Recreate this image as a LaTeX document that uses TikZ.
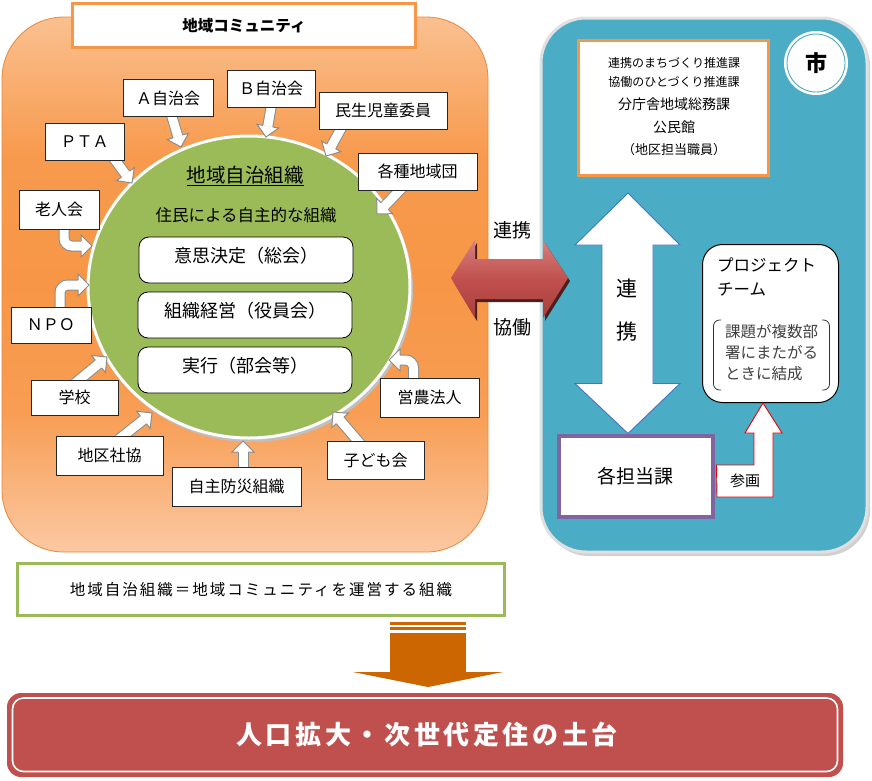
\documentclass[tikz,border=0pt]{standalone}
\usepackage{fontspec}
\setmainfont{Noto Sans CJK JP}
\usetikzlibrary{calc,shapes.geometric}
\definecolor{cOrange}{HTML}{F79646}
\definecolor{oTop}{HTML}{FAC090}
\definecolor{oMid}{HTML}{F79646}
\definecolor{oBot}{HTML}{FBC8A2}
\definecolor{oEdge}{HTML}{E8883D}
\definecolor{cGreen}{HTML}{9BBB59}
\definecolor{cBlue}{HTML}{4BACC6}
\definecolor{cRed}{HTML}{C0504D}
\definecolor{rTop}{HTML}{D6817E}
\definecolor{rBot}{HTML}{A8403D}
\definecolor{cPurple}{HTML}{8064A2}
\definecolor{aBlue}{HTML}{4472C4}
\definecolor{dOrange}{HTML}{CC6600}
\pgfdeclareverticalshading{oshade}{100bp}{color(0bp)=(oBot); color(25bp)=(oBot); color(38bp)=(oMid!85!oBot); color(50bp)=(oMid); color(62bp)=(oMid!90!oTop); color(75bp)=(oTop); color(100bp)=(oTop)}
\pgfdeclareverticalshading{rshade}{100bp}{color(0bp)=(rBot); color(25bp)=(rBot); color(50bp)=(cRed); color(75bp)=(rTop); color(100bp)=(rTop)}
\tikzset{
  fsz/.style={font=\fontsize{#1}{#1}\selectfont},
  fszb/.style={font=\fontsize{#1}{#1}\selectfont\bfseries},
  sbox/.style={draw=black!85, fill=white, line width=0.9pt, inner sep=0pt, fsz=16},
  ibox/.style={draw=black, fill=white, rounded corners=10pt, line width=0.8pt, minimum width=214pt, minimum height=46pt, inner sep=0pt, fsz=18, text depth=11pt},
  shaft/.style={draw=black!45, double=white, double distance=9pt, line width=1pt},
  headline/.style={draw=black!45, line width=1pt, line join=miter},
  lbl/.style={inner sep=0pt},
}
\newcommand\ahd[2]{%
  \coordinate (hb) at ($(#2)!11pt!(#1)$);
  \fill[white] ($(hb)!11pt!90:(#2)$) -- (#2) -- ($(hb)!11pt!-90:(#2)$) -- cycle;
  \draw[headline] ($(hb)!5pt!90:(#2)$) -- ($(hb)!11pt!90:(#2)$) -- (#2) -- ($(hb)!11pt!-90:(#2)$) -- ($(hb)!5pt!-90:(#2)$);}
\newcommand\sarrow[2]{%
  \coordinate (hb) at ($(#2)!11pt!(#1)$);
  \draw[shaft] ($(#1)!-6pt!(#2)$) -- (hb);
  \ahd{#1}{#2}}
\newcommand\carrow[3]{%
  \coordinate (hb) at ($(#3)!11pt!(#2)$);
  \draw[shaft, rounded corners=8pt] (#1) -- (#2) -- (hb);
  \ahd{#2}{#3}}
\begin{document}
\begin{tikzpicture}[x=1pt,y=-1pt]
\useasboundingbox (0,0) rectangle (872,780);
\fill[white] (0,0) rectangle (872,780);

% ---------- left panel
\path[shading=oshade, rounded corners=62pt] (2,17) rectangle (488,552);
\draw[oEdge, line width=0.8pt, rounded corners=62pt] (2,17) rectangle (488,552);
\node[draw=cOrange, line width=3pt, fill=white, minimum width=343pt, minimum height=44pt, inner sep=0pt, fszb=15.5] (title) at (244,25.5) {地域コミュニティ};

% circle
\fill[black!25] (251,290) ellipse [x radius=162, y radius=152];
\node[ellipse, fill=cGreen, draw=white, line width=3pt, minimum width=322pt, minimum height=302pt, inner sep=0pt] (org) at (249,287) {};
\node[lbl, fsz=19.5] (orgname) at (245,176) {\underline{地域自治組織}};
\node[lbl, fsz=16.5] (orgsub) at (246,215) {住民による自主的な組織};
\node[ibox] (b1) at (246,260) {意思決定（総会）};
\node[ibox] (b2) at (245,315) {組織経営（役員会）};
\node[ibox] (b3) at (245,370) {実行（部会等）};

% member boxes (positions)
\path
  (168,98)    node[sbox, minimum width=90pt,  minimum height=37pt] (ajichi) {}
  (271,88.5)  node[sbox, minimum width=88pt,  minimum height=37pt] (bjichi) {}
  (383,110.5) node[sbox, minimum width=128pt, minimum height=37pt] (minsei) {}
  (84.5,141.5) node[sbox, minimum width=79pt, minimum height=37pt] (pta) {}
  (417.5,171.5) node[sbox, minimum width=119pt, minimum height=37pt] (kakushu) {}
  (59,209.5)  node[sbox, minimum width=80pt,  minimum height=39pt] (roujin) {}
  (51,325)    node[sbox, minimum width=80pt,  minimum height=36pt] (npo) {}
  (74.5,397.5) node[sbox, minimum width=87pt, minimum height=35pt] (gakko) {}
  (109.5,455.5) node[sbox, minimum width=107pt, minimum height=39pt] (shakyo) {}
  (236.5,486.5) node[sbox, minimum width=129pt, minimum height=39pt] (bosai) {}
  (375.5,460) node[sbox, minimum width=97pt,  minimum height=38pt] (kodomo) {}
  (429.5,397.5) node[sbox, minimum width=99pt, minimum height=39pt] (einou) {};

% arrows into the circle
\coordinate (sA) at ($(ajichi.south)+(4,0)$);   \coordinate (tA) at (181,147);
\coordinate (sB) at (bjichi.south);              \coordinate (tB) at (266,137);
\coordinate (sM) at ($(minsei.south west)+(22,0)$); \coordinate (tM) at (326,156);
\coordinate (sP) at ($(pta.south east)+(-9,0)$); \coordinate (tP) at (132,183);
\coordinate (sK) at ($(kakushu.south west)+(42,0)$); \coordinate (tK) at (377,214);
\coordinate (sG) at ($(gakko.north)+(5,0)$);     \coordinate (tG) at (107,357);
\coordinate (sS) at ($(shakyo.north)+(14,0)$);   \coordinate (tS) at (152,413);
\coordinate (sJ) at ($(bosai.north)+(6.5,0)$);   \coordinate (tJ) at (243,441);
\coordinate (sC) at ($(kodomo.north)+(-18,0)$);  \coordinate (tC) at (333,412);
\sarrow{sA}{tA}
\sarrow{sB}{tB}
\sarrow{sM}{tM}
\sarrow{sP}{tP}
\sarrow{sK}{tK}
\sarrow{sG}{tG}
\sarrow{sS}{tS}
\sarrow{sJ}{tJ}
\sarrow{sC}{tC}
\coordinate (sR) at ($(roujin.south)+(5,-4)$); \coordinate (cR) at (64,246); \coordinate (tR) at (92,246);
\coordinate (sN) at ($(npo.north)+(9,4)$);     \coordinate (cN) at (60,285); \coordinate (tN) at (89,285);
\coordinate (sE) at ($(einou.north)+(-16,4)$); \coordinate (cE) at (413.5,360); \coordinate (tE) at (389,360);
\carrow{sR}{cR}{tR}
\carrow{sN}{cN}{tN}
\carrow{sE}{cE}{tE}

% member boxes with text (redrawn over arrow tails)
\node[sbox, minimum width=90pt,  minimum height=37pt] at (ajichi) {Ａ自治会};
\node[sbox, minimum width=88pt,  minimum height=37pt] at (bjichi) {Ｂ自治会};
\node[sbox, minimum width=128pt, minimum height=37pt] at (minsei) {民生児童委員};
\node[sbox, minimum width=79pt,  minimum height=37pt] at (pta) {ＰＴＡ};
\node[sbox, minimum width=119pt, minimum height=37pt] at (kakushu) {各種地域団};
\node[sbox, minimum width=80pt,  minimum height=39pt] at (roujin) {老人会};
\node[sbox, minimum width=80pt,  minimum height=36pt] at (npo) {ＮＰＯ};
\node[sbox, minimum width=87pt,  minimum height=35pt] at (gakko) {学校};
\node[sbox, minimum width=107pt, minimum height=39pt] at (shakyo) {地区社協};
\node[sbox, minimum width=129pt, minimum height=39pt] at (bosai) {自主防災組織};
\node[sbox, minimum width=97pt,  minimum height=38pt] at (kodomo) {子ども会};
\node[sbox, minimum width=99pt,  minimum height=39pt] at (einou) {営農法人};

% ---------- right panel
\fill[black!18, rounded corners=45pt] (544,21) rectangle (870,556);
\draw[fill=cBlue, draw=white!88!black, line width=3pt, rounded corners=45pt] (541,18) rectangle (867,552);
\node[draw=cOrange, line width=3.5pt, fill=white, minimum width=190pt, minimum height=135pt, inner sep=0pt] (obox) at (673.5,108) {};
\node[lbl, fsz=12] at (674,63) {連携のまちづくり推進課};
\node[lbl, fsz=12] at (674,82) {協働のひとづくり推進課};
\node[lbl, fsz=14] at (674,104) {分庁舎地域総務課};
\node[lbl, fsz=14] at (674,127) {公民館};
\node[lbl, fsz=13] at (674,150) {（地区担当職員）};

\node[circle, fill=white, draw=white, line width=2pt, minimum size=62pt, inner sep=0pt, fszb=22] (shi) at (816,63) {市};
\draw[cBlue, line width=0.9pt] (shi.center) circle[radius=29pt];

\node[draw=cPurple, line width=4pt, fill=white, minimum width=154pt, minimum height=81pt, inner sep=0pt, fsz=19] (kaku) at (635.5,476) {各担当課};

% vertical double arrow
\coordinate (vt) at (628,193);
\coordinate (vb) at (kaku.north -| vt);
\draw[fill=white, draw=aBlue, line width=0.9pt, line join=miter]
  (vt) -- ($(vt)+(52,52)$) -- ($(vt)+(25,52)$) -- ($(vb)+(25,-50)$) -- ($(vb)+(52,-50)$) -- (vb)
  -- ($(vb)+(-53,-50)$) -- ($(vb)+(-26,-50)$) -- ($(vt)+(-26,52)$) -- ($(vt)+(-53,52)$) -- cycle;
\node[lbl, fsz=21] at (627,288) {連};
\node[lbl, fsz=21] at (627,332) {携};

% project team
\node[draw=black, line width=1pt, fill=white, rounded corners=20pt, minimum width=136pt, minimum height=158pt, inner sep=0pt] (pt) at (770.5,323.5) {};
\node[lbl, fsz=16.5, anchor=west] at (717,265) {プロジェクト};
\node[lbl, fsz=16.5, anchor=west] at (717,289) {チーム};
\node[lbl, fsz=15.5, anchor=west, text=black!75] at (725,332) {課題が複数部};
\node[lbl, fsz=15.5, anchor=west, text=black!75] at (725,353) {署にまたがる};
\node[lbl, fsz=15.5, anchor=west, text=black!75] at (725,374) {ときに結成};
\draw[black!80, line width=0.8pt, rounded corners=6pt] (721,320) -- (713.5,320) -- (713.5,390) -- (721,390);
\draw[black!80, line width=0.8pt, rounded corners=6pt] (822,320) -- (829.5,320) -- (829.5,390) -- (822,390);

% 参画 arrow
\coordinate (pa) at ($(kaku.east)+(2,-11)$);
\coordinate (ptip) at ($(pt.south)+(-7.5,0)$);
\draw[fill=white, draw=red!90!black, line width=0.9pt, line join=miter]
  (pa) -- (pa -| 754,0) -- (754,433) -- (745,433) -- (ptip) -- (782,433) -- (773,433) -- (773,497) -- (717,497) -- cycle;
\node[lbl, fsz=15] at (745,481) {参画};

% ---------- middle red double arrow
\coordinate (rl) at (451,278);
\coordinate (rr) at (568,278);
\fill[black!60!cRed] ($(rl)+(2,3)$) -- ($(rl)+(26,-35)$) -- ($(rl)+(26,-16)$) -- ($(rr)+(-23,-16)$) -- ($(rr)+(-23,-35)$) -- ($(rr)+(2,3)$)
  -- ($(rr)+(-23,43)$) -- ($(rr)+(-23,24)$) -- ($(rl)+(26,24)$) -- ($(rl)+(26,43)$) -- cycle;
\path[shading=rshade]
  (rl) -- ($(rl)+(24,-38)$) -- ($(rl)+(24,-19)$) -- ($(rr)+(-25,-19)$) -- ($(rr)+(-25,-38)$) -- (rr)
  -- ($(rr)+(-25,40)$) -- ($(rr)+(-25,21)$) -- ($(rl)+(24,21)$) -- ($(rl)+(24,40)$) -- cycle;
\node[lbl, fsz=19] at (512,230) {連携};
\node[lbl, fsz=19] at (512,327) {協働};

% ---------- bottom
\node[draw=cGreen, line width=3pt, fill=white, minimum width=487pt, minimum height=52pt, inner sep=0pt,
      font=\fontsize{15.5}{15.5}\selectfont\addfontfeatures{LetterSpace=13}] (gbox) at (261,589.5) {地域自治組織＝地域コミュニティを運営する組織};

\fill[dOrange] (390,622) rectangle (466,624.5);
\fill[dOrange] (390,626.5) rectangle (466,630);
\fill[dOrange] (390,633) rectangle (466,672.5);
\coordinate (dtip) at (428,687);
\fill[dOrange] (353,672) -- (503,672) -- (dtip) -- cycle;

\node[fill=cRed, rounded corners=14pt, minimum width=836pt, minimum height=84pt, inner sep=0pt] (base) at (425,735) {};
\draw[white, line width=1.6pt, rounded corners=11pt] (12.5,698) rectangle (837.5,771.5);
\node[lbl, text=white, font=\fontsize{26}{26}\selectfont\bfseries\addfontfeatures{LetterSpace=14}] at (427,735) {人口拡大・次世代定住の土台};
\end{tikzpicture}
\end{document}
